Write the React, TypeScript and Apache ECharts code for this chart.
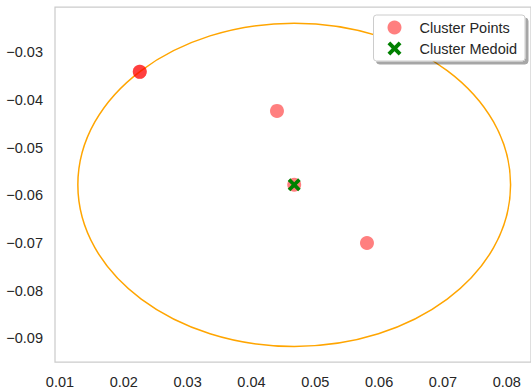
import React, { useEffect, useRef } from "react";
import * as echarts from "echarts";

// Cluster points (x, y)
const clusterX = [0.0225, 0.0225, 0.0440, 0.0467, 0.0581];
const clusterY = [-0.0341, -0.0341, -0.0423, -0.0578, -0.0700];
// Medoid of the cluster
const medoidX = [0.0467];
const medoidY = [-0.0578];
// Radius of the circle drawn around the medoid (data units)
const medoidRadius = [0.0339];

// Tick values and labels
const xTicks = [0.01, 0.02, 0.03, 0.04, 0.05, 0.06, 0.07, 0.08];
const xTickLabels = ["0.01", "0.02", "0.03", "0.04", "0.05", "0.06", "0.07", "0.08"];
const yTicks = [-0.03, -0.04, -0.05, -0.06, -0.07, -0.08, -0.09];
const yTickLabels = ["\u22120.03", "\u22120.04", "\u22120.05", "\u22120.06", "\u22120.07", "\u22120.08", "\u22120.09"];

const seriesNames = ["Cluster Points", "Cluster Medoid"];

const xPath =
  "path://M2,0 L5,3 L8,0 L10,2 L7,5 L10,8 L8,10 L5,7 L2,10 L0,8 L3,5 L0,2 Z";

function pickLabel(v: number, ticks: number[], labels: string[]) {
  for (let i = 0; i < ticks.length; i++) {
    if (Math.abs(v - ticks[i]) < 1e-6) return labels[i];
  }
  return "";
}

export default function App() {
  const ref = useRef<HTMLDivElement>(null);
  useEffect(() => {
    if (!ref.current) return;
    const chart = echarts.init(ref.current, undefined, { renderer: "svg" });
    const font = "'Liberation Sans', Arial, sans-serif";
    const textColor = "#262626";
    chart.setOption({
      animation: false,
      grid: {
        left: 55,
        right: 0,
        top: 7,
        bottom: 29,
        show: true,
        borderColor: "#cccccc",
        borderWidth: 1.25,
        backgroundColor: "transparent",
      },
      xAxis: {
        type: "value",
        min: 0.00922,
        max: 0.0838,
        splitNumber: 7,
        axisLine: { show: false },
        axisTick: { show: false },
        splitLine: { show: false },
        axisLabel: {
          showMinLabel: false,
          showMaxLabel: false,
          margin: 12,
          fontSize: 14.5,
          color: textColor,
          fontFamily: font,
          formatter: (v: number) => pickLabel(v, xTicks, xTickLabels),
        },
      },
      yAxis: {
        type: "value",
        min: -0.09497,
        max: -0.0205,
        splitNumber: 7,
        axisLine: { show: false },
        axisTick: { show: false },
        splitLine: { show: false },
        axisLabel: {
          showMinLabel: false,
          showMaxLabel: false,
          margin: 12,
          fontSize: 14.5,
          color: textColor,
          fontFamily: font,
          formatter: (v: number) => pickLabel(v, yTicks, yTickLabels),
        },
      },
      legend: {
        data: seriesNames,
        orient: "vertical",
        right: 6,
        top: 15,
        itemWidth: 40,
        itemHeight: 14,
        itemGap: 6,
        padding: [5, 8, 5, 14],
        backgroundColor: "#ffffff",
        borderColor: "#cccccc",
        borderWidth: 1,
        borderRadius: 3,
        shadowColor: "rgba(0,0,0,0.35)",
        shadowOffsetX: 3,
        shadowOffsetY: 3,
        shadowBlur: 1,
        textStyle: {
          fontSize: 14.5,
          color: textColor,
          fontFamily: font,
        },
      },
      series: [
        {
          type: "custom",
          name: "circle",
          z: 1,
          silent: true,
          encode: { x: 0, y: 1 },
          data: medoidX.map((x, i) => [x, medoidY[i], medoidRadius[i]]),
          renderItem: (params: any, api: any) => {
            const c = api.coord([api.value(0), api.value(1)]);
            const s = api.size([api.value(2), api.value(2)]);
            return {
              type: "ellipse",
              shape: { cx: c[0], cy: c[1], rx: s[0], ry: s[1] },
              style: { fill: "none", stroke: "#ffa500", lineWidth: 1.5 },
            };
          },
        },
        {
          type: "scatter",
          name: seriesNames[0],
          z: 2,
          symbol: "circle",
          symbolSize: 14,
          itemStyle: { color: "rgba(255,0,0,0.5)", opacity: 1 },
          data: clusterX.map((x, i) => [x, clusterY[i]]),
        },
        {
          type: "scatter",
          name: seriesNames[1],
          z: 3,
          symbol: xPath,
          symbolSize: 13,
          itemStyle: { color: "#008000", opacity: 1 },
          data: medoidX.map((x, i) => [x, medoidY[i]]),
        },
      ],
    });
    return () => chart.dispose();
  }, []);
  return <div ref={ref} style={{ width: 531, height: 391, position: "absolute", left: 0, top: 0 }} />;
}
